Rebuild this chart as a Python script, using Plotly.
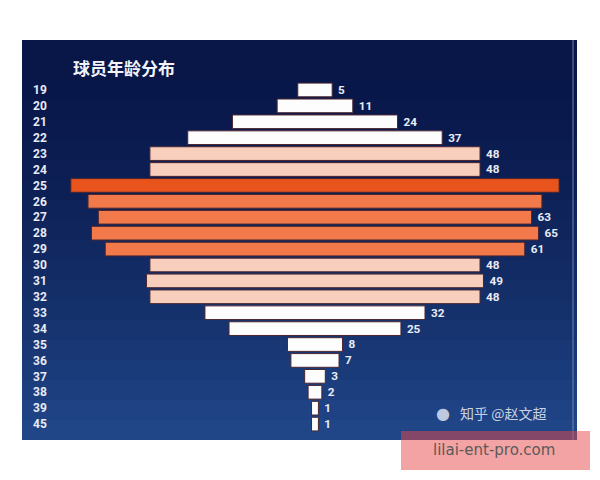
import plotly.graph_objects as go

ages = ["19", "20", "21", "22", "23", "24", "25", "26", "27", "28", "29",
        "30", "31", "32", "33", "34", "35", "36", "37", "38", "39", "45"]
counts = [5, 11, 24, 37, 48, 48, 71, 66, 63, 65, 61,
          48, 49, 48, 32, 25, 8, 7, 3, 2, 1, 1]
# value labels shown in the source (the two widest bars carry none)
shown = [True, True, True, True, True, True, False, False, True, True, True,
         True, True, True, True, True, True, True, True, True, True, True]
title_text = "球员年龄分布"


def bar_color(v):
    if v >= 70:
        return "#e9541d"
    if v >= 55:
        return "#f27a4a"
    if v >= 45:
        return "#f8cfbd"
    return "#fdfdfd"


colors = [bar_color(v) for v in counts]
labels = ["\u00a0" + str(v) if s else "" for v, s in zip(counts, shown)]

# page body has an 8px margin; figure coords = reference coords - 8
OFF = 8
W, H = 600 - OFF, 480 - OFF
PX0, PX1, PY0, PY1 = 22 - OFF, 577 - OFF, 40 - OFF, 440 - OFF
PW, PH = PX1 - PX0, PY1 - PY0


def px(x):
    return (x - OFF - PX0) / PW


def py(y):
    return (PY1 - (y - OFF)) / PH


fig = go.Figure()
fig.add_trace(go.Bar(
    y=ages,
    x=counts,
    base=[-v / 2 for v in counts],
    orientation="h",
    width=0.86,
    marker=dict(color=colors, line=dict(color="#4a2630", width=1)),
    text=labels,
    textposition="outside",
    cliponaxis=False,
    textfont=dict(family="Roboto", size=12, color="#e8ecf6", weight="bold"),
    hoverinfo="skip",
))

# background gradient stripes (top navy -> bottom bluer)
n = 20
shapes = []
top = (8, 22, 72)
bot = (32, 70, 136)
for i in range(n):
    t = (i / (n - 1)) ** 1.5
    c = tuple(int(top[k] + (bot[k] - top[k]) * t) for k in range(3))
    shapes.append(dict(type="rect", xref="paper", yref="paper",
                       x0=0, x1=1, y0=1 - (i + 1) / n, y1=1 - i / n,
                       fillcolor="rgb(%d,%d,%d)" % c, line=dict(width=0),
                       layer="below"))
# thin light line near the right edge of the panel
shapes.append(dict(type="line", xref="paper", yref="paper",
                   x0=px(573), x1=px(573), y0=0, y1=1,
                   line=dict(color="rgba(120,140,190,0.6)", width=1.5),
                   layer="below"))
# pink watermark box
shapes.append(dict(type="rect", xref="paper", yref="paper",
                   x0=px(401), x1=px(590), y0=py(470), y1=py(431),
                   fillcolor="rgba(232,72,72,0.5)", line=dict(width=0),
                   layer="above"))

annotations = [
    dict(text="<b>" + title_text + "</b>", xref="paper", yref="paper",
         x=px(71), y=py(68), xanchor="left", yanchor="middle",
         showarrow=False,
         font=dict(family="Noto Sans CJK SC", size=17, color="#f2f4fa")),
    dict(text="知乎 @赵文超", xref="paper", yref="paper",
         x=px(458), y=py(413), xanchor="left", yanchor="middle",
         showarrow=False,
         font=dict(family="Noto Sans CJK SC", size=14, color="rgba(235,238,248,0.85)")),
    dict(text="●", xref="paper", yref="paper",
         x=px(434), y=py(413), xanchor="left", yanchor="middle",
         showarrow=False,
         font=dict(family="DejaVu Sans", size=16, color="rgba(235,238,248,0.8)")),
    dict(text="lilai-ent-pro.com", xref="paper", yref="paper",
         x=px(494), y=py(450), xanchor="center", yanchor="middle",
         showarrow=False,
         font=dict(family="DejaVu Sans", size=15, color="#5a5a5a")),
]

fig.update_layout(
    width=W, height=H,
    margin=dict(l=PX0, r=W - PX1, t=PY0, b=H - PY1),
    paper_bgcolor="#ffffff",
    plot_bgcolor="#0a1848",
    showlegend=False,
    shapes=shapes,
    annotations=annotations,
    xaxis=dict(range=[-42.6, 38.1], visible=False, fixedrange=True),
    yaxis=dict(
        type="category",
        categoryorder="array", categoryarray=ages,
        range=[22.0, -3.14],
        showgrid=False, zeroline=False, showline=False,
        ticks="", ticklabelposition="inside",
        ticklabelstandoff=8,
        tickfont=dict(family="Roboto", size=12, color="#e8ecf6", weight="bold"),
    ),
    bargap=0.1,
)

fig.write_html("out.html")
